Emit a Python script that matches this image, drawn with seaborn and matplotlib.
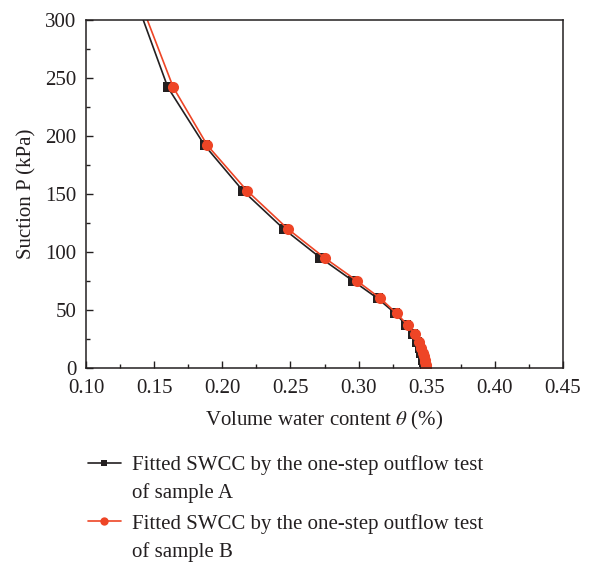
import numpy as np
import matplotlib
matplotlib.use("Agg")
import matplotlib.pyplot as plt
from matplotlib.ticker import MultipleLocator
from matplotlib.lines import Line2D
import seaborn as sns

# suction values (kPa), first point only carries the line to the top edge
suction = [300, 242, 192, 153, 120, 95, 75, 60, 47, 37, 29, 22, 17, 13, 10, 7, 5, 3, 1.5, 0.5, 0]
theta_a = [0.142, 0.160, 0.187, 0.215, 0.245, 0.272, 0.296, 0.314, 0.327, 0.335, 0.340,
           0.343, 0.345, 0.346, 0.347, 0.3475, 0.348, 0.3485, 0.349, 0.349, 0.3495]
theta_b = [0.145, 0.164, 0.189, 0.218, 0.248, 0.275, 0.299, 0.316, 0.328, 0.336, 0.3415,
           0.344, 0.346, 0.347, 0.348, 0.3485, 0.349, 0.3492, 0.3495, 0.3497, 0.3497]

label_first = "Fitted SWCC by the one-step outflow test"
label_second = ["of sample A", "of sample B"]

black = "#231F20"
red = "#EE4526"

sns.set_style("ticks")
plt.rcParams["font.family"] = ["Liberation Serif", "DejaVu Serif"]
plt.rcParams["mathtext.fontset"] = "stix"

fig = plt.figure(figsize=(5.92, 5.62), dpi=100)
ax = fig.add_axes([0.1453, 0.3452, 0.8057, 0.6192])

marks = list(range(1, len(suction)))
sns.lineplot(x=theta_a, y=suction, sort=False, estimator=None, ax=ax,
             color=black, lw=1.2, marker="s", markersize=6.5, markeredgewidth=0,
             markevery=marks)
sns.lineplot(x=theta_b, y=suction, sort=False, estimator=None, ax=ax,
             color=red, lw=1.2, marker="o", markersize=8, markeredgewidth=0,
             markevery=marks)

ax.set_xlim(0.10, 0.45)
ax.set_ylim(0, 300)
ax.xaxis.set_major_locator(MultipleLocator(0.05))
ax.xaxis.set_minor_locator(MultipleLocator(0.025))
ax.yaxis.set_major_locator(MultipleLocator(50))
ax.yaxis.set_minor_locator(MultipleLocator(25))
ax.set_xticklabels([f"{v:.2f}" for v in ax.get_xticks()])
ax.tick_params(which="both", direction="in", labelsize=15, colors=black, width=1)
ax.tick_params(which="major", length=5)
ax.tick_params(which="minor", length=3)
ax.tick_params(axis="x", which="major", pad=8)
ax.tick_params(axis="y", which="major", pad=7)
for s in ax.spines.values():
    s.set_linewidth(1.1)
    s.set_color(black)

ax.set_xlabel(r"Volume water content $\it{\theta}$ (%)", fontsize=15, color=black, labelpad=8)
ax.set_ylabel("Suction P (kPa)", fontsize=15, color=black, labelpad=6)

handles = [
    Line2D([], [], color=black, lw=1.2, marker="s", markersize=5, markeredgewidth=0),
    Line2D([], [], color=red, lw=1.2, marker="o", markersize=6, markeredgewidth=0),
]
leg = fig.legend(handles, [label_first, label_first], loc="upper left",
                 bbox_to_anchor=(0.148, 0.19), frameon=False, fontsize=15,
                 handlelength=1.6, handletextpad=0.55, labelspacing=1.85,
                 labelcolor=black, borderaxespad=0, borderpad=0)

# second line of each legend label sits under the first
fig.canvas.draw()
inv = fig.transFigure.inverted()
for txt, extra in zip(leg.get_texts(), label_second):
    bb = txt.get_window_extent()
    x0, y0 = inv.transform((bb.x0, bb.y0 - 28 + bb.height / 2))
    fig.text(x0, y0, extra, fontsize=15, color=black, ha="left", va="center")

fig.savefig("out.png", dpi=100)
